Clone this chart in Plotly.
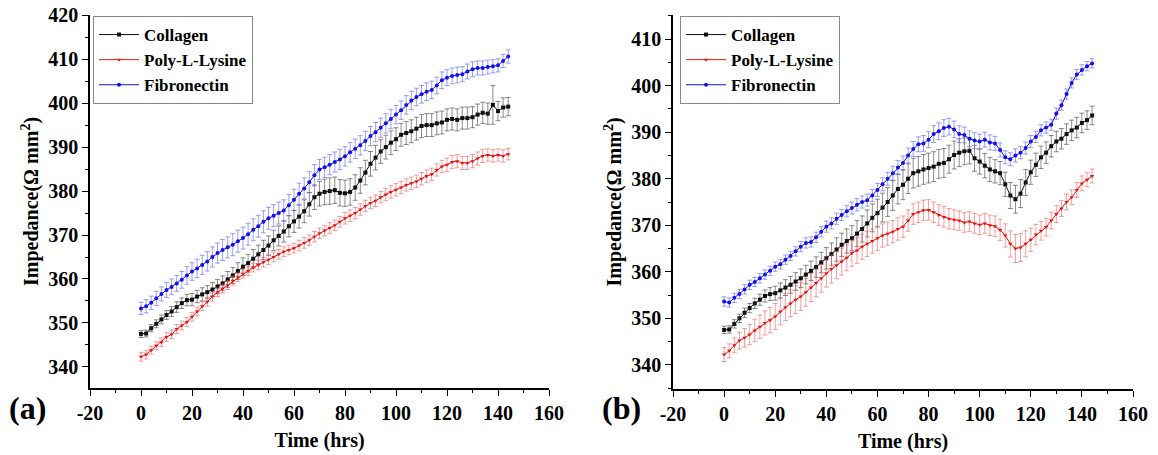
import plotly.graph_objects as go

time_hrs = [0, 2, 4, 6, 8, 10, 12, 14, 16, 18, 20, 22, 24, 26, 28, 30, 32, 34, 36, 38,
            40, 42, 44, 46, 48, 50, 52, 54, 56, 58, 60, 62, 64, 66, 68, 70, 72, 74, 76, 78,
            80, 82, 84, 86, 88, 90, 92, 94, 96, 98, 100, 102, 104, 106, 108, 110, 112, 114, 116, 118,
            120, 122, 124, 126, 128, 130, 132, 134, 136, 138, 140, 142, 144]

# ---------------- Panel (a) ----------------
collagen_a = [347.5, 347.6, 348.8, 349.8, 350.8, 351.8, 352.6, 353.6, 354.5, 355.2,
              355.3, 356.0, 356.5, 357.0, 357.6, 358.3, 359.0, 359.9, 360.8, 361.8,
              362.8, 363.6, 364.6, 365.6, 366.6, 367.6, 368.8, 369.8, 370.8, 372.0,
              373.1, 374.2, 375.4, 377.0, 378.6, 379.4, 379.8, 380.0, 380.2, 379.6,
              379.5, 379.8, 380.8, 382.4, 384.2, 386.2, 387.6, 389.0, 390.0, 391.0,
              391.8, 392.8, 393.2, 393.6, 394.2, 394.8, 395.0, 395.0, 395.4, 395.6,
              396.2, 396.4, 396.2, 396.6, 396.6, 396.8, 397.4, 397.8, 397.6, 399.6,
              398.2, 399.0, 399.2]
collagen_a_err = [0.8, 0.8, 0.8, 0.9, 1.0, 1.0, 1.1, 1.2, 1.2, 1.3,
                  1.4, 1.4, 1.5, 1.5, 1.6, 1.6, 1.7, 1.8, 1.8, 1.9,
                  2.0, 2.0, 2.1, 2.1, 2.2, 2.2, 2.3, 2.3, 2.4, 2.4,
                  2.5, 2.6, 2.6, 2.7, 2.8, 2.8, 2.9, 3.0, 3.0, 3.0,
                  3.0, 3.0, 2.9, 2.9, 2.8, 2.8, 2.8, 2.7, 2.7, 2.7,
                  2.6, 2.6, 2.6, 2.6, 2.6, 2.6, 2.6, 2.6, 2.6, 2.6,
                  2.5, 2.5, 2.5, 2.5, 2.5, 2.4, 2.4, 2.4, 2.4, 4.4,
                  2.2, 2.2, 2.1]

pll_a = [342.3, 342.8, 343.8, 344.8, 345.6, 346.8, 347.4, 348.6, 349.4, 350.2,
         351.4, 352.6, 353.8, 354.8, 356.0, 357.0, 357.8, 358.6, 359.6, 360.4,
         361.2, 361.8, 362.6, 363.2, 363.8, 364.4, 365.0, 365.6, 366.2, 366.6,
         367.0, 367.6, 368.2, 368.8, 369.6, 370.4, 371.0, 371.6, 372.2, 373.0,
         373.8, 374.4, 375.0, 375.8, 376.6, 377.3, 377.8, 378.6, 379.2, 379.8,
         380.3, 380.8, 381.4, 381.8, 382.2, 382.8, 383.4, 383.8, 384.8, 385.6,
         386.0, 386.6, 386.8, 386.4, 386.4, 386.8, 387.4, 388.0, 388.2, 388.0,
         388.2, 388.0, 388.4]
pll_a_err = [1.0, 1.0, 0.9, 0.9, 1.0, 1.0, 1.0, 1.0, 1.0, 1.0,
             1.0, 1.0, 1.0, 1.0, 1.0, 1.0, 1.0, 1.0, 1.0, 1.0,
             1.0, 1.0, 1.0, 1.1, 1.1, 1.1, 1.1, 1.1, 1.1, 1.1,
             1.1, 1.2, 1.2, 1.2, 1.2, 1.2, 1.2, 1.2, 1.2, 1.2,
             1.3, 1.3, 1.3, 1.3, 1.3, 1.3, 1.3, 1.3, 1.4, 1.4,
             1.4, 1.4, 1.4, 1.4, 1.4, 1.4, 1.4, 1.4, 1.4, 1.4,
             1.5, 1.5, 1.5, 1.5, 1.5, 1.5, 1.5, 1.5, 1.4, 1.4,
             1.4, 1.4, 1.3]

fib_a = [353.3, 353.8, 354.6, 355.6, 356.6, 357.5, 358.2, 359.0, 359.8, 360.8,
         361.7, 362.4, 363.2, 364.0, 365.0, 365.9, 366.6, 367.2, 367.8, 368.6,
         369.3, 370.2, 371.2, 372.0, 373.0, 373.8, 374.4, 375.0, 375.6, 376.8,
         378.0, 379.4, 380.6, 382.0, 383.6, 384.9, 385.4, 386.0, 386.6, 387.2,
         387.9, 388.8, 389.6, 390.4, 391.4, 392.5, 393.4, 394.4, 395.4, 396.4,
         397.4, 398.4, 399.6, 400.6, 401.4, 402.0, 402.6, 403.0, 404.0, 405.2,
         405.8, 406.2, 406.4, 406.6, 407.2, 407.7, 408.0, 408.0, 408.2, 408.4,
         408.6, 409.6, 410.6]
fib_a_err = [1.4, 1.5, 1.5, 1.6, 1.6, 1.7, 1.8, 1.8, 1.9, 2.0,
             2.0, 2.1, 2.2, 2.2, 2.3, 2.3, 2.4, 2.4, 2.5, 2.5,
             2.5, 2.5, 2.5, 2.5, 2.5, 2.5, 2.5, 2.5, 2.4, 2.4,
             2.4, 2.4, 2.4, 2.4, 2.4, 2.3, 2.3, 2.3, 2.3, 2.3,
             2.2, 2.2, 2.2, 2.2, 2.2, 2.2, 2.2, 2.2, 2.2, 2.2,
             2.1, 2.1, 2.1, 2.1, 2.0, 2.0, 2.0, 2.0, 1.9, 1.9,
             1.8, 1.8, 1.8, 1.7, 1.7, 1.7, 1.6, 1.6, 1.6, 1.5,
             1.5, 1.5, 1.5]

# ---------------- Panel (b) ----------------
collagen_b = [347.5, 347.6, 348.8, 350.0, 351.2, 352.2, 353.2, 354.0, 354.8, 355.2,
              355.4, 356.0, 356.6, 357.2, 357.9, 358.6, 359.4, 360.2, 361.0, 362.0,
              362.9, 363.8, 364.8, 365.8, 366.6, 367.2, 368.2, 369.2, 370.4, 371.6,
              372.6, 373.8, 375.0, 376.4, 377.8, 378.7, 380.0, 381.2, 381.6, 382.0,
              382.3, 382.6, 383.2, 383.4, 384.2, 385.1, 385.6, 385.9, 386.0, 384.4,
              383.7, 382.8, 382.0, 381.6, 381.2, 378.8, 376.4, 375.6, 376.8, 379.2,
              381.4, 383.0, 384.6, 385.6, 387.0, 388.0, 388.6, 389.6, 390.4, 391.0,
              392.0, 392.6, 393.6]
collagen_b_err = [0.8, 0.8, 0.9, 0.9, 1.0, 1.0, 1.1, 1.2, 1.3, 1.4,
                  1.5, 1.6, 1.7, 1.8, 1.9, 2.0, 2.0, 2.1, 2.2, 2.2,
                  2.3, 2.4, 2.5, 2.5, 2.6, 2.7, 2.8, 2.8, 2.9, 3.0,
                  3.0, 3.1, 3.1, 3.2, 3.2, 3.2, 3.2, 3.2, 3.2, 3.2,
                  3.2, 3.2, 3.1, 3.1, 3.0, 3.0, 3.0, 2.9, 2.8, 2.8,
                  2.7, 2.6, 2.6, 2.5, 2.5, 2.6, 2.8, 3.0, 3.0, 2.8,
                  2.6, 2.5, 2.4, 2.3, 2.3, 2.2, 2.2, 2.2, 2.2, 2.2,
                  2.1, 2.0, 2.0]

pll_b = [342.2, 343.0, 344.2, 345.2, 345.8, 346.5, 347.4, 348.2, 349.0, 349.6,
         350.4, 351.4, 352.4, 353.2, 354.0, 354.7, 355.6, 356.6, 357.6, 358.6,
         359.7, 360.6, 361.4, 362.2, 363.0, 364.0, 364.6, 365.4, 366.0, 366.6,
         367.2, 367.8, 368.2, 368.6, 369.2, 369.7, 371.0, 372.4, 372.8, 373.2,
         373.3, 372.8, 372.2, 371.8, 371.4, 371.2, 371.0, 370.6, 370.8, 370.4,
         370.1, 370.4, 370.0, 369.8, 369.0, 367.8, 366.0, 365.0, 365.2, 366.0,
         366.9, 368.0, 368.8, 369.6, 371.0, 372.4, 373.6, 375.0, 376.0, 377.6,
         379.0, 379.8, 380.6]
pll_b_err = [1.5, 1.5, 1.6, 1.8, 2.0, 2.2, 2.4, 2.5, 2.6, 2.7,
             2.8, 2.8, 2.9, 2.9, 3.0, 3.0, 3.0, 3.0, 3.0, 3.0,
             3.0, 3.0, 2.9, 2.9, 2.8, 2.8, 2.8, 2.7, 2.7, 2.6,
             2.6, 2.5, 2.5, 2.4, 2.4, 2.3, 2.3, 2.2, 2.2, 2.2,
             2.2, 2.2, 2.2, 2.2, 2.2, 2.1, 2.1, 2.1, 2.1, 2.1,
             2.1, 2.1, 2.2, 2.2, 2.3, 2.5, 2.8, 3.0, 3.0, 2.8,
             2.5, 2.2, 2.0, 1.9, 1.8, 1.8, 1.7, 1.7, 1.6, 1.6,
             1.6, 1.5, 1.5]

fib_b = [353.6, 353.4, 354.4, 355.2, 356.2, 357.2, 357.8, 358.6, 359.4, 360.2,
         361.1, 361.6, 362.6, 363.4, 364.4, 365.4, 366.2, 366.4, 367.4, 368.6,
         369.7, 370.4, 371.4, 372.2, 373.0, 373.7, 374.4, 375.0, 375.4, 376.4,
         377.6, 378.8, 380.0, 381.2, 382.4, 383.4, 385.0, 386.4, 387.4, 387.6,
         388.4, 389.6, 390.2, 390.9, 391.2, 390.6, 389.6, 389.4, 388.6, 388.2,
         388.0, 388.4, 387.8, 387.6, 386.2, 384.6, 384.2, 385.0, 385.6, 386.6,
         388.0, 389.0, 390.4, 391.0, 391.6, 394.0, 395.8, 398.2, 400.6, 402.4,
         403.4, 404.2, 404.8]
fib_b_err = [1.0, 1.0, 1.0, 1.0, 1.0, 1.0, 1.0, 1.0, 1.0, 1.0,
             1.0, 1.0, 1.0, 1.0, 1.0, 1.1, 1.1, 1.1, 1.1, 1.1,
             1.2, 1.2, 1.2, 1.2, 1.2, 1.3, 1.3, 1.3, 1.3, 1.3,
             1.4, 1.4, 1.4, 1.5, 1.5, 1.5, 1.6, 1.6, 1.6, 1.7,
             1.7, 1.8, 1.8, 1.8, 1.8, 1.8, 1.8, 1.7, 1.7, 1.7,
             1.6, 1.6, 1.6, 1.5, 1.5, 1.4, 1.4, 1.4, 1.3, 1.3,
             1.3, 1.2, 1.2, 1.2, 1.2, 1.2, 1.1, 1.1, 1.1, 1.1,
             1.1, 1.0, 1.0]

series_names = ["Collagen", "Poly-L-Lysine", "Fibronectin"]
line_colors = ["#111111", "#f01010", "#1010f0"]
err_colors = ["rgba(60,60,60,0.75)", "rgba(240,80,80,0.7)", "rgba(80,80,240,0.7)"]
symbols = ["square", "triangle-down", "circle"]

x_ticks = [-20, 0, 20, 40, 60, 80, 100, 120, 140, 160]
x_tick_text = ["-20", "0", "20", "40", "60", "80", "100", "120", "140", "160"]
y_ticks_a = [340, 350, 360, 370, 380, 390, 400, 410, 420]
y_ticks_b = [340, 350, 360, 370, 380, 390, 400, 410]

FONT = "Liberation Serif"

fig = go.Figure()

panels = [
    (["x", "y"], "legend", [collagen_a, pll_a, fib_a], [collagen_a_err, pll_a_err, fib_a_err]),
    (["x2", "y2"], "legend2", [collagen_b, pll_b, fib_b], [collagen_b_err, pll_b_err, fib_b_err]),
]

for (axes, leg, vals, errs) in panels:
    for i in range(3):
        fig.add_trace(go.Scatter(
            x=time_hrs, y=vals[i], name=series_names[i],
            mode="lines+markers",
            line=dict(color=line_colors[i], width=1),
            marker=dict(symbol=symbols[i], size=4, color=line_colors[i]),
            error_y=dict(type="data", array=errs[i], color=err_colors[i],
                         thickness=0.8, width=2.5),
            xaxis=axes[0], yaxis=axes[1], legend=leg,
        ))

axis_common = dict(
    showline=True, linecolor="black", linewidth=1.5,
    ticks="outside", ticklen=6, tickwidth=1.2, tickcolor="black",
    showgrid=False, zeroline=False, automargin=False, ticklabeloverflow="allow",
    tickfont=dict(family=FONT, size=20, color="black", weight="bold"),
)

xcommon = dict(axis_common, range=[-20, 160], tickvals=x_ticks, ticktext=x_tick_text,
               minor=dict(ticks="outside", ticklen=3, dtick=10, tickcolor="black", tickwidth=1),
               title=dict(text="Time (hrs)", font=dict(family=FONT, size=20, color="black", weight="bold"),
                          standoff=10))
ycommon = dict(axis_common,
               minor=dict(ticks="outside", ticklen=3, dtick=5, tick0=335, tickcolor="black", tickwidth=1),
               title=dict(text="Impedance(Ω mm<sup>2</sup>)",
                          font=dict(family=FONT, size=20, color="black", weight="bold"),
                          standoff=4))

# The page body adds an 8 px offset, so the figure is 8 px smaller and
# every pixel position below is shifted by -8 relative to the target image.
W, H = 1150, 447
legend_common = dict(xanchor="left", yanchor="top",
                     bordercolor="#888888", borderwidth=1, bgcolor="white",
                     font=dict(family=FONT, size=17, color="black", weight="bold"),
                     tracegroupgap=0, itemwidth=40)
fig.update_layout(
    width=W, height=H,
    margin=dict(l=0, r=0, t=0, b=0, autoexpand=False),
    paper_bgcolor="white", plot_bgcolor="white",
    xaxis=dict(xcommon, domain=[82 / W, 541 / W], anchor="y"),
    yaxis=dict(ycommon, domain=[1 - 380 / H, 1 - 7 / H], range=[335.2, 420.05],
               tickvals=y_ticks_a, anchor="x"),
    xaxis2=dict(xcommon, domain=[665 / W, 1125 / W], anchor="y2"),
    yaxis2=dict(ycommon, domain=[1 - 381 / H, 1 - 7 / H], range=[334.8, 415.2],
                tickvals=y_ticks_b, anchor="x2"),
    legend=dict(legend_common, x=85 / W, y=1 - 8 / H),
    legend2=dict(legend_common, x=672 / W, y=1 - 8 / H),
    annotations=[
        dict(text="(a)", x=19 / W, y=1 - 400 / H, xref="paper", yref="paper",
             xanchor="center", yanchor="middle", showarrow=False,
             font=dict(family=FONT, size=32, color="black", weight="bold")),
        dict(text="(b)", x=613 / W, y=1 - 400 / H, xref="paper", yref="paper",
             xanchor="center", yanchor="middle", showarrow=False,
             font=dict(family=FONT, size=32, color="black", weight="bold")),
    ],
)

fig.write_html("out.html")
